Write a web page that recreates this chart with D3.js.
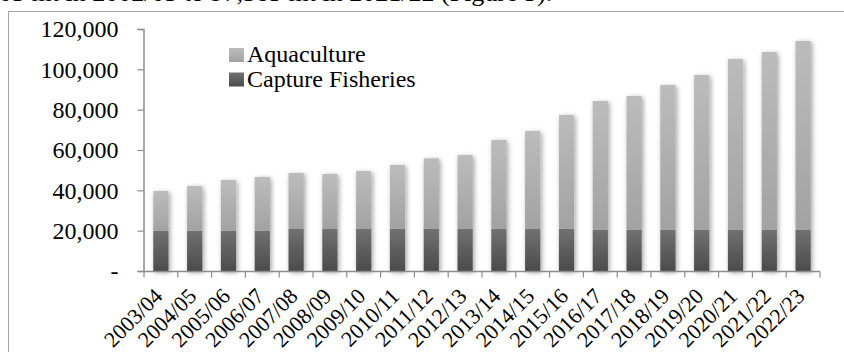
<!DOCTYPE html>
<html>
<head>
<meta charset="utf-8">
<script src="https://cdn.jsdelivr.net/npm/d3@7"></script>
<style>
  html, body { margin: 0; padding: 0; background: #fff; }
  svg { display: block; font-family: "Liberation Serif", "Times New Roman", serif; }
</style>
</head>
<body>
<svg id="chart" width="844" height="352"></svg>
<script>
// Fish production by source (mt)
const years = ["2003/04","2004/05","2005/06","2006/07","2007/08","2008/09","2009/10","2010/11",
  "2011/12","2012/13","2013/14","2014/15","2015/16","2016/17","2017/18","2018/19","2019/20",
  "2020/21","2021/22","2022/23"];
const captureFisheries = [20000,20000,20000,20000,21000,21000,21000,21000,21000,21000,
  21000,21000,21000,20400,20400,20400,20400,20400,20400,20400];
const aquaculture = [19700,22200,25100,26600,27600,27100,28600,31600,34900,36500,
  44000,48400,56400,63900,66400,71800,76800,84700,88200,93700];
const yTicks = [0,20000,40000,60000,80000,100000,120000];
const seriesNames = ["Aquaculture","Capture Fisheries"];

const svg = d3.select("#chart");
const W = 844, H = 352;

// body text line above the figure, mostly cropped at the top edge
svg.append("text")
  .attr("x", -1).attr("y", 1)
  .attr("font-size", 26).attr("fill", "#000")
  .text("03 mt in 2002/03 to 97,383 mt in 2021/22 (Figure 5).");

// chart frame
svg.append("rect")
  .attr("x", 8.5).attr("y", 11.5).attr("width", W + 10).attr("height", H)
  .attr("fill", "#fff").attr("stroke", "#a6a6a6").attr("stroke-width", 1);

const defs = svg.append("defs");
function vGrad(id, top, bottom) {
  const g = defs.append("linearGradient").attr("id", id)
    .attr("x1", 0).attr("y1", 0).attr("x2", 0).attr("y2", 1);
  g.append("stop").attr("offset", "0%").attr("stop-color", top);
  g.append("stop").attr("offset", "100%").attr("stop-color", bottom);
}
vGrad("gAqua", "#bcbcbc", "#a2a2a2");
vGrad("gCap", "#717171", "#4b4b4b");
const shadow = defs.append("filter").attr("id", "shadow")
  .attr("x", "-60%").attr("y", "-10%").attr("width", "220%").attr("height", "120%");
shadow.append("feDropShadow").attr("dx", 1.5).attr("dy", 1.5)
  .attr("stdDeviation", 2.4).attr("flood-color", "#000").attr("flood-opacity", 0.38);

const x = d3.scaleBand().domain(years).range([144, 820]).paddingInner(0.55).paddingOuter(0.275);
const y = d3.scaleLinear().domain([0, 120000]).range([271, 29]);

const stackData = years.map((yr, i) => ({ year: yr, capture: captureFisheries[i], aqua: aquaculture[i] }));
const stacked = d3.stack().keys(["capture", "aqua"])(stackData);
const fills = { capture: "url(#gCap)", aqua: "url(#gAqua)" };

const barsG = svg.append("g").attr("filter", "url(#shadow)");
stackData.forEach((d, i) => {
  const g = barsG.append("g");
  stacked.forEach(layer => {
    const seg = layer[i];
    g.append("rect")
      .attr("x", x(d.year))
      .attr("width", x.bandwidth())
      .attr("y", y(seg[1]))
      .attr("height", y(seg[0]) - y(seg[1]))
      .attr("fill", fills[layer.key]);
  });
});

// y axis
const fmt = d3.format(",");
const yAxis = d3.axisLeft(y).tickValues(yTicks).tickSize(6).tickPadding(19)
  .tickFormat(v => v === 0 ? "-" : fmt(v));
const yg = svg.append("g").attr("transform", "translate(143.5,0)").call(yAxis);
yg.select(".domain").attr("stroke", "#8c8c8c").attr("stroke-width", 1.5);
yg.selectAll(".tick line").attr("stroke", "#8c8c8c").attr("stroke-width", 1.2);
yg.selectAll(".tick text").attr("font-size", 24).attr("fill", "#000")
  .attr("font-family", "Liberation Serif, serif");

// x axis: ticks at category boundaries
const xg = svg.append("g").attr("transform", "translate(0,271.5)");
xg.append("line").attr("x1", 144).attr("x2", 820)
  .attr("stroke", "#8c8c8c").attr("stroke-width", 1.5);
const step = x.step();
const bounds = d3.range(years.length + 1).map(k => 144 + k * step);
xg.selectAll("line.tk").data(bounds).join("line").attr("class", "tk")
  .attr("x1", d => d).attr("x2", d => d).attr("y1", 0).attr("y2", 6)
  .attr("stroke", "#8c8c8c").attr("stroke-width", 1.2);
xg.selectAll("text.lab").data(years).join("text").attr("class", "lab")
  .attr("transform", d => `translate(${x(d) + x.bandwidth() / 2 + 3},${26}) rotate(-45)`)
  .attr("text-anchor", "end")
  .attr("font-size", 22).attr("fill", "#000")
  .text(d => d);

// legend
const legend = svg.append("g").attr("transform", "translate(229,62)");
seriesNames.forEach((name, i) => {
  const row = legend.append("g").attr("transform", `translate(0,${i * 24.5})`);
  row.append("rect").attr("x", 0).attr("y", -14).attr("width", 15).attr("height", 14)
    .attr("fill", i === 0 ? "url(#gAqua)" : "url(#gCap)");
  row.append("text").attr("x", 18).attr("y", 0)
    .attr("font-size", 24).attr("fill", "#000").text(name);
});
</script>
</body>
</html>
